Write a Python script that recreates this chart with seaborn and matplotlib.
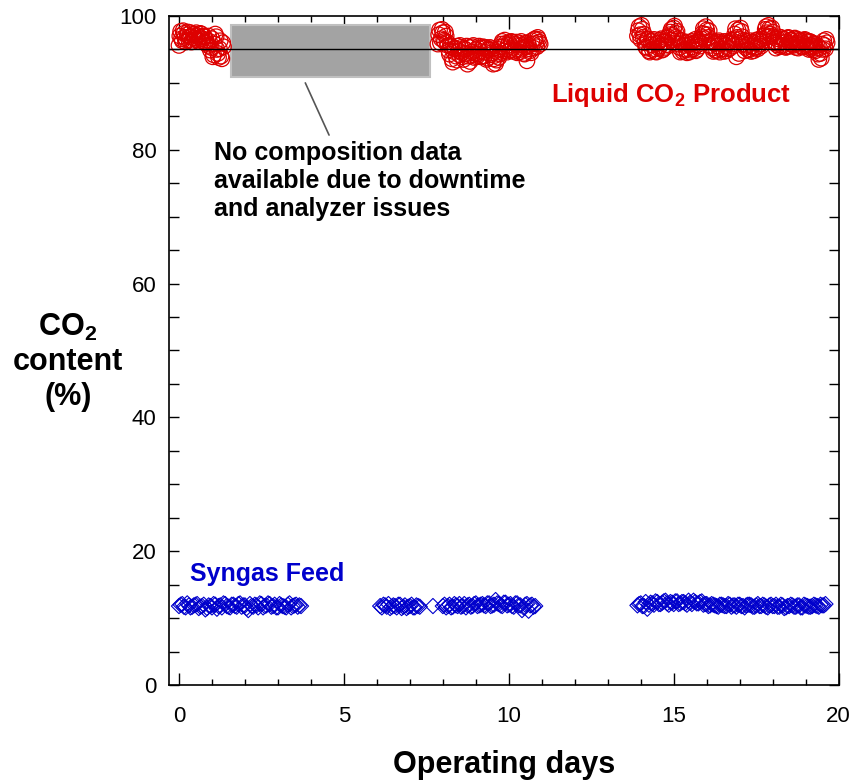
import matplotlib
matplotlib.use("Agg")
import matplotlib.pyplot as plt
from matplotlib.patches import Rectangle
from matplotlib.ticker import MultipleLocator
import seaborn as sns
import pandas as pd

sns.set_style("ticks")
plt.rcParams["font.family"] = ["Liberation Sans", "DejaVu Sans"]
plt.rcParams["mathtext.fontset"] = "custom"
plt.rcParams["mathtext.rm"] = "Liberation Sans"
plt.rcParams["mathtext.bf"] = "Liberation Sans:bold"
plt.rcParams["text.color"] = "black"
plt.rcParams["axes.labelcolor"] = "black"

# ---------------- data ----------------
# Liquid CO2 product (%), run 1
product1_day = [0.00, 0.05, 0.10, 0.15, 0.20, 0.25, 0.30, 0.35, 0.40, 0.45,
                0.50, 0.55, 0.60, 0.65, 0.70, 0.75, 0.80, 0.85, 0.90, 0.95,
                1.00, 1.05, 1.10, 1.15, 1.20, 1.25, 1.30, 1.35]
product1_co2 = [95.6, 97.7, 96.3, 97.4, 96.1, 97.2, 96.4, 97.5, 96.2, 97.3,
                96.5, 97.1, 96.2, 97.4, 96.3, 97.0, 96.0, 95.9, 97.0, 94.9,
                96.6, 94.2, 97.3, 95.0, 93.8, 96.3, 93.6, 95.4]
product1b_day = [0.025, 0.075, 0.125, 0.175, 0.225, 0.275, 0.325, 0.375, 0.425, 0.475,
                 0.525, 0.575, 0.625, 0.675, 0.725, 0.775, 0.825, 0.875, 0.925, 0.975,
                 1.025, 1.075, 1.125, 1.175, 1.225, 1.275, 1.325]
product1b_co2 = [97.0, 96.6, 97.8, 96.8, 96.4, 97.6, 96.9, 96.1, 97.2, 96.7,
                 97.5, 96.4, 96.8, 97.3, 96.6, 96.9, 96.4, 95.6, 96.2, 95.3,
                 93.9, 95.8, 96.9, 94.4, 95.1, 94.0, 96.0]

# run 2
product2_day = [7.85, 7.90, 7.95, 8.00, 8.05, 8.10, 8.15, 8.20, 8.25, 8.30,
                8.35, 8.40, 8.45, 8.50, 8.55, 8.60, 8.65, 8.70, 8.75, 8.80,
                8.85, 8.90, 8.95, 9.00, 9.05, 9.10, 9.15, 9.20, 9.25, 9.30,
                9.35, 9.40, 9.45, 9.50, 9.55, 9.60, 9.65, 9.70, 9.75, 9.80,
                9.85, 9.90, 9.95, 10.00, 10.05, 10.10, 10.15, 10.20, 10.25, 10.30,
                10.35, 10.40, 10.45, 10.50, 10.55, 10.60, 10.65, 10.70, 10.75, 10.80,
                10.85, 10.90, 10.95]
product2_co2 = [95.8, 97.9, 96.6, 97.5, 96.2, 97.0, 95.6, 94.3, 95.4, 93.1,
                95.2, 94.0, 95.5, 94.2, 95.3, 93.9, 95.1, 94.4, 92.8, 95.3,
                94.1, 95.4, 93.8, 95.0, 94.3, 95.5, 93.9, 95.2, 94.0, 95.3,
                93.7, 95.0, 94.2, 95.1, 93.6, 92.9, 94.6, 93.8, 95.4, 96.2,
                94.8, 95.9, 94.6, 96.0, 94.9, 96.1, 94.7, 95.8, 94.5, 96.0,
                95.0, 95.7, 94.4, 95.9, 93.3, 95.6, 94.8, 96.3, 95.2, 96.6,
                95.4, 96.5, 95.8]
product2b_day = [7.875, 7.925, 7.975, 8.025, 8.075, 8.125, 8.175, 8.225, 8.275, 8.325,
                 8.375, 8.425, 8.475, 8.525, 8.575, 8.625, 8.675, 8.725, 8.775, 8.825,
                 8.875, 8.925, 8.975, 9.025, 9.075, 9.125, 9.175, 9.225, 9.275, 9.325,
                 9.375, 9.425, 9.475, 9.525, 9.575, 9.625, 9.675, 9.725, 9.775, 9.825,
                 9.875, 9.925, 9.975, 10.025, 10.075, 10.125, 10.175, 10.225, 10.275, 10.325,
                 10.375, 10.425, 10.475, 10.525, 10.575, 10.625, 10.675, 10.725, 10.775, 10.825,
                 10.875, 10.925]
product2b_co2 = [97.2, 96.0, 98.0, 96.4, 97.6, 96.1, 94.9, 95.6, 93.6, 94.7,
                 95.1, 93.4, 94.8, 95.6, 94.5, 93.5, 95.0, 95.5, 94.0, 93.2,
                 94.6, 95.6, 94.4, 93.9, 95.2, 94.7, 94.0, 95.4, 94.6, 93.5,
                 94.9, 95.3, 94.5, 92.8, 94.1, 93.4, 95.0, 94.3, 95.8, 95.4,
                 96.4, 95.1, 95.6, 94.8, 96.2, 95.3, 94.9, 96.1, 95.6, 94.6,
                 96.2, 95.2, 94.3, 95.4, 96.0, 95.1, 94.5, 95.8, 96.5, 95.9,
                 96.8, 96.1]

# run 3
product3_day = [13.90, 13.95, 14.00, 14.05, 14.10, 14.15, 14.20, 14.25, 14.30, 14.35,
                14.40, 14.45, 14.50, 14.55, 14.60, 14.65, 14.70, 14.75, 14.80, 14.85,
                14.90, 14.95, 15.00, 15.05, 15.10, 15.15, 15.20, 15.25, 15.30, 15.35,
                15.40, 15.45, 15.50, 15.55, 15.60, 15.65, 15.70, 15.75, 15.80, 15.85,
                15.90, 15.95, 16.00, 16.05, 16.10, 16.15, 16.20, 16.25, 16.30, 16.35,
                16.40, 16.45, 16.50, 16.55, 16.60, 16.65, 16.70, 16.75, 16.80, 16.85,
                16.90, 16.95, 17.00, 17.05, 17.10, 17.15, 17.20, 17.25, 17.30, 17.35,
                17.40, 17.45, 17.50, 17.55, 17.60, 17.65, 17.70, 17.75, 17.80, 17.85,
                17.90, 17.95, 18.00, 18.05, 18.10, 18.15, 18.20, 18.25, 18.30, 18.35,
                18.40, 18.45, 18.50, 18.55, 18.60, 18.65, 18.70, 18.75, 18.80, 18.85,
                18.90, 18.95, 19.00, 19.05, 19.10, 19.15, 19.20, 19.25, 19.30, 19.35,
                19.40, 19.45, 19.50, 19.55, 19.60, 19.65]
product3_co2 = [97.0, 98.4, 96.5, 98.0, 97.3, 95.4, 96.6, 94.8, 96.2, 95.0,
                96.5, 94.7, 95.9, 95.2, 96.4, 94.9, 96.1, 95.3, 96.7, 95.6,
                97.6, 96.4, 98.2, 96.8, 97.7, 95.8, 94.6, 96.3, 95.0, 96.0,
                94.5, 95.7, 94.9, 96.2, 95.1, 96.5, 95.0, 96.3, 95.5, 96.9,
                98.1, 96.6, 97.9, 96.8, 95.6, 96.3, 94.7, 95.9, 94.9, 96.1,
                94.6, 95.8, 95.1, 96.2, 94.8, 95.9, 95.2, 96.4, 95.5, 97.3,
                93.9, 97.9, 96.5, 97.7, 95.8, 94.8, 96.2, 95.0, 95.9, 94.7,
                96.1, 95.2, 96.4, 95.1, 96.3, 95.5, 96.6, 97.2, 98.4, 96.9,
                98.1, 97.0, 97.6, 96.0, 95.2, 96.6, 95.4, 96.8, 95.6, 96.5,
                95.3, 96.7, 95.5, 96.4, 95.8, 96.6, 95.3, 96.5, 95.6, 96.3,
                95.4, 96.4, 95.5, 96.2, 95.0, 96.1, 95.3, 95.9, 94.8, 95.6,
                93.5, 94.4, 95.8, 96.3, 95.1, 96.0]
product3b_day = [13.925, 13.975, 14.025, 14.075, 14.125, 14.175, 14.225, 14.275, 14.325, 14.375,
                 14.425, 14.475, 14.525, 14.575, 14.625, 14.675, 14.725, 14.775, 14.825, 14.875,
                 14.925, 14.975, 15.025, 15.075, 15.125, 15.175, 15.225, 15.275, 15.325, 15.375,
                 15.425, 15.475, 15.525, 15.575, 15.625, 15.675, 15.725, 15.775, 15.825, 15.875,
                 15.925, 15.975, 16.025, 16.075, 16.125, 16.175, 16.225, 16.275, 16.325, 16.375,
                 16.425, 16.475, 16.525, 16.575, 16.625, 16.675, 16.725, 16.775, 16.825, 16.875,
                 16.925, 16.975, 17.025, 17.075, 17.125, 17.175, 17.225, 17.275, 17.325, 17.375,
                 17.425, 17.475, 17.525, 17.575, 17.625, 17.675, 17.725, 17.775, 17.825, 17.875,
                 17.925, 17.975, 18.025, 18.075, 18.125, 18.175, 18.225, 18.275, 18.325, 18.375,
                 18.425, 18.475, 18.525, 18.575, 18.625, 18.675, 18.725, 18.775, 18.825, 18.875,
                 18.925, 18.975, 19.025, 19.075, 19.125, 19.175, 19.225, 19.275, 19.325, 19.375,
                 19.425, 19.475, 19.525, 19.575, 19.625]
product3b_co2 = [97.8, 97.2, 98.6, 96.8, 96.0, 95.2, 96.5, 94.6, 95.7, 96.3,
                 95.1, 94.6, 96.0, 95.5, 96.6, 95.0, 96.2, 95.7, 96.9, 97.2,
                 98.0, 97.1, 98.5, 97.4, 96.6, 95.3, 96.0, 94.7, 95.6, 95.0,
                 96.1, 94.6, 95.8, 95.4, 96.0, 94.8, 95.7, 96.1, 96.6, 97.4,
                 97.3, 98.4, 97.2, 97.8, 96.1, 95.2, 96.0, 94.8, 95.5, 96.3,
                 95.0, 96.0, 94.7, 95.6, 96.0, 95.1, 96.2, 95.8, 96.6, 98.1,
                 96.8, 94.4, 98.2, 96.9, 96.4, 95.3, 95.6, 94.9, 96.3, 95.5,
                 94.8, 95.9, 95.4, 96.5, 95.8, 96.2, 97.0, 98.0, 97.5, 98.6,
                 97.3, 98.2, 96.8, 96.2, 95.7, 96.9, 96.0, 95.5, 96.6, 96.1,
                 95.4, 96.8, 95.9, 96.3, 95.6, 96.7, 95.9, 95.2, 96.4, 96.0,
                 95.4, 96.5, 95.7, 95.3, 96.2, 95.6, 94.9, 95.8, 95.2, 94.3,
                 95.2, 93.7, 95.0, 95.6, 96.5]

# Syngas feed CO2 (%)
feed1_day = [0.0, 0.1, 0.2, 0.3, 0.4, 0.5, 0.6, 0.7, 0.8, 0.9,
             1.0, 1.1, 1.2, 1.3, 1.4, 1.5, 1.6, 1.7, 1.8, 1.9,
             2.0, 2.1, 2.2, 2.3, 2.4, 2.5, 2.6, 2.7, 2.8, 2.9,
             3.0, 3.1, 3.2, 3.3, 3.4, 3.5, 3.6, 3.7]
feed1_co2 = [11.8, 12.1, 11.6, 11.9, 11.7, 12.0, 11.5, 11.8, 11.3, 11.9,
             11.6, 12.0, 11.8, 11.6, 12.1, 11.7, 12.0, 11.8, 12.1, 11.7,
             11.9, 11.2, 11.8, 12.0, 11.6, 12.1, 11.8, 12.2, 11.7, 12.0,
             11.6, 11.9, 11.7, 12.0, 11.6, 11.9, 11.7, 11.8]
feed1b_day = [0.05, 0.15, 0.25, 0.35, 0.45, 0.55, 0.65, 0.75, 0.85, 0.95,
              1.05, 1.15, 1.25, 1.35, 1.45, 1.55, 1.65, 1.75, 1.85, 1.95,
              2.05, 2.15, 2.25, 2.35, 2.45, 2.55, 2.65, 2.75, 2.85, 2.95,
              3.05, 3.15, 3.25, 3.35, 3.45, 3.55, 3.65]
feed1b_co2 = [12.0, 11.7, 12.2, 11.6, 11.9, 12.1, 11.7, 12.0, 11.5, 11.8,
              12.1, 11.4, 11.9, 12.2, 11.8, 11.6, 12.0, 11.7, 12.2, 11.9,
              11.5, 12.1, 11.7, 11.9, 12.2, 11.6, 11.9, 12.1, 11.8, 11.6,
              12.1, 11.8, 11.6, 12.2, 11.8, 12.0, 11.9]

feed2_day = [6.1, 6.2, 6.3, 6.4, 6.5, 6.6, 6.7, 6.8, 6.9, 7.0,
             7.1, 7.2, 7.3, 7.7, 8.0, 8.1, 8.2, 8.3, 8.4, 8.5,
             8.6, 8.7, 8.8, 8.9, 9.0, 9.1, 9.2, 9.3, 9.4, 9.5,
             9.6, 9.7, 9.8, 9.9, 10.0, 10.1, 10.2, 10.3, 10.4, 10.5,
             10.6, 10.7, 10.8]
feed2_co2 = [11.8, 12.0, 11.7, 11.5, 11.9, 11.6, 12.0, 11.7, 11.5, 11.8,
             11.6, 11.9, 11.7, 11.8, 11.8, 11.6, 12.0, 11.7, 11.9, 12.1,
             11.8, 11.6, 12.0, 11.8, 12.2, 11.9, 12.1, 11.8, 12.2, 11.9,
             12.7, 12.1, 11.8, 12.3, 12.0, 11.8, 12.2, 11.9, 11.2, 12.0,
             11.1, 12.0, 11.8]
feed2b_day = [6.15, 6.25, 6.35, 6.45, 6.55, 6.65, 6.75, 6.85, 6.95, 7.05,
              7.15, 7.25, 8.05, 8.15, 8.25, 8.35, 8.45, 8.55, 8.65, 8.75,
              8.85, 8.95, 9.05, 9.15, 9.25, 9.35, 9.45, 9.55, 9.65, 9.75,
              9.85, 9.95, 10.05, 10.15, 10.25, 10.35, 10.45, 10.55, 10.65, 10.75]
feed2b_co2 = [11.6, 11.9, 12.1, 11.7, 11.8, 12.0, 11.5, 11.9, 11.7, 12.0,
              11.6, 11.8, 12.0, 11.8, 11.6, 12.1, 11.8, 11.7, 12.1, 11.9,
              11.7, 12.1, 11.8, 12.0, 11.9, 12.2, 11.8, 12.0, 12.2, 11.9,
              12.3, 11.9, 12.1, 11.7, 12.2, 11.9, 11.6, 12.1, 11.9, 11.7]

feed3_day = [13.9, 14.0, 14.1, 14.2, 14.3, 14.4, 14.5, 14.6, 14.7, 14.8,
             14.9, 15.0, 15.1, 15.2, 15.3, 15.4, 15.5, 15.6, 15.7, 15.8,
             15.9, 16.0, 16.1, 16.2, 16.3, 16.4, 16.5, 16.6, 16.7, 16.8,
             16.9, 17.0, 17.1, 17.2, 17.3, 17.4, 17.5, 17.6, 17.7, 17.8,
             17.9, 18.0, 18.1, 18.2, 18.3, 18.4, 18.5, 18.6, 18.7, 18.8,
             18.9, 19.0, 19.1, 19.2, 19.3, 19.4, 19.5, 19.6]
feed3_co2 = [11.9, 12.2, 11.8, 11.4, 12.3, 12.0, 12.4, 12.1, 12.5, 12.2,
             12.4, 12.1, 12.5, 12.2, 12.4, 12.0, 12.3, 12.6, 12.2, 12.4,
             12.0, 12.1, 11.9, 12.0, 11.8, 12.0, 11.9, 11.8, 12.0, 11.9,
             11.7, 12.0, 11.8, 11.9, 12.0, 11.7, 11.9, 11.8, 12.0, 11.7,
             11.9, 11.8, 12.0, 11.7, 11.9, 11.6, 11.8, 11.9, 11.7, 11.9,
             11.6, 11.9, 11.7, 11.8, 11.9, 11.7, 11.9, 12.1]
feed3b_day = [13.95, 14.05, 14.15, 14.25, 14.35, 14.45, 14.55, 14.65, 14.75, 14.85,
              14.95, 15.05, 15.15, 15.25, 15.35, 15.45, 15.55, 15.65, 15.75, 15.85,
              15.95, 16.05, 16.15, 16.25, 16.35, 16.45, 16.55, 16.65, 16.75, 16.85,
              16.95, 17.05, 17.15, 17.25, 17.35, 17.45, 17.55, 17.65, 17.75, 17.85,
              17.95, 18.05, 18.15, 18.25, 18.35, 18.45, 18.55, 18.65, 18.75, 18.85,
              18.95, 19.05, 19.15, 19.25, 19.35, 19.45, 19.55]
feed3b_co2 = [12.1, 11.8, 12.4, 12.0, 12.2, 12.5, 12.1, 12.3, 12.6, 12.0,
              12.3, 12.5, 12.1, 12.4, 12.2, 12.6, 12.1, 12.4, 12.2, 12.5,
              12.1, 11.8, 12.1, 11.9, 11.7, 12.0, 11.8, 12.1, 11.7, 11.9,
              12.0, 11.8, 11.6, 12.0, 11.9, 11.7, 12.1, 11.8, 11.9, 11.6,
              12.0, 11.8, 11.7, 12.0, 11.5, 11.8, 12.0, 11.7, 11.9, 11.6,
              12.0, 11.8, 11.7, 12.0, 11.8, 12.0, 11.9]

# reference purity line and downtime window
spec_level = 95.0
gap_start, gap_end = 1.57, 7.62
gap_low, gap_high = 90.9, 98.6

product = pd.DataFrame({
    "day": product1_day + product1b_day + product2_day + product2b_day
           + product3_day + product3b_day,
    "co2": product1_co2 + product1b_co2 + product2_co2 + product2b_co2
           + product3_co2 + product3b_co2,
})
feed = pd.DataFrame({
    "day": feed1_day + feed1b_day + feed2_day + feed2b_day + feed3_day + feed3b_day,
    "co2": feed1_co2 + feed1b_co2 + feed2_co2 + feed2b_co2 + feed3_co2 + feed3b_co2,
})

RED = "#dd0000"
BLUE = "#0000cc"

# ---------------- figure ----------------
fig = plt.figure(figsize=(8.54, 7.8), dpi=100)
ax = fig.add_axes([0.198, 0.1218, 0.784, 0.8577])

ax.add_patch(Rectangle((gap_start, gap_low), gap_end - gap_start, gap_high - gap_low,
                       facecolor="#a3a3a3", edgecolor="#c0c0c0", lw=1.5, zorder=1))

sns.scatterplot(data=product, x="day", y="co2", ax=ax, marker="o", s=125,
                color=RED, facecolor="none", edgecolor=RED, linewidth=0.9,
                legend=False, zorder=2)
sns.scatterplot(data=feed, x="day", y="co2", ax=ax, marker="D", s=60,
                color=BLUE, facecolor="none", edgecolor=BLUE, linewidth=0.8,
                legend=False, zorder=2)

ax.axhline(spec_level, color="black", lw=1.0, zorder=3)

ax.set_xlim(-0.3, 20)
ax.set_ylim(0, 100)
ax.xaxis.set_major_locator(MultipleLocator(5))
ax.xaxis.set_minor_locator(MultipleLocator(1))
ax.yaxis.set_major_locator(MultipleLocator(20))
ax.yaxis.set_minor_locator(MultipleLocator(5))
ax.tick_params(axis="both", which="both", direction="in", top=True, right=True,
               labelsize=16, width=1.0, color="black", labelcolor="black")
ax.tick_params(axis="x", which="major", length=9, pad=15)
ax.tick_params(axis="x", which="minor", length=4.5)
ax.tick_params(axis="y", which="both", length=7, pad=9)
for sp in ax.spines.values():
    sp.set_color("black")
    sp.set_linewidth(1.2)

ax.set_xlabel("Operating days", fontsize=22, fontweight="bold", labelpad=17)
ax.set_ylabel("CO$_\\mathbf{2}$\ncontent\n(%)", rotation=0, fontsize=22,
              fontweight="bold", ha="center", va="center", multialignment="center",
              linespacing=1.2)
ax.yaxis.set_label_coords(-0.151, 0.483)

ax.text(1.05, 81.3, "No composition data\navailable due to downtime\nand analyzer issues",
        fontsize=18, fontweight="bold", va="top", ha="left", linespacing=1.22)
ax.annotate("", xy=(3.83, 90.0), xytext=(4.55, 82.2),
            arrowprops=dict(arrowstyle="-", color="#555555", lw=1.2,
                            shrinkA=0, shrinkB=0))

ax.text(11.27, 87.2, "Liquid CO$_\\mathbf{2}$ Product", color=RED, fontsize=18.5,
        fontweight="bold", va="baseline", ha="left")
ax.text(0.33, 15.6, "Syngas Feed", color=BLUE, fontsize=18,
        fontweight="bold", va="baseline", ha="left")

fig.savefig("out.png", dpi=100)
